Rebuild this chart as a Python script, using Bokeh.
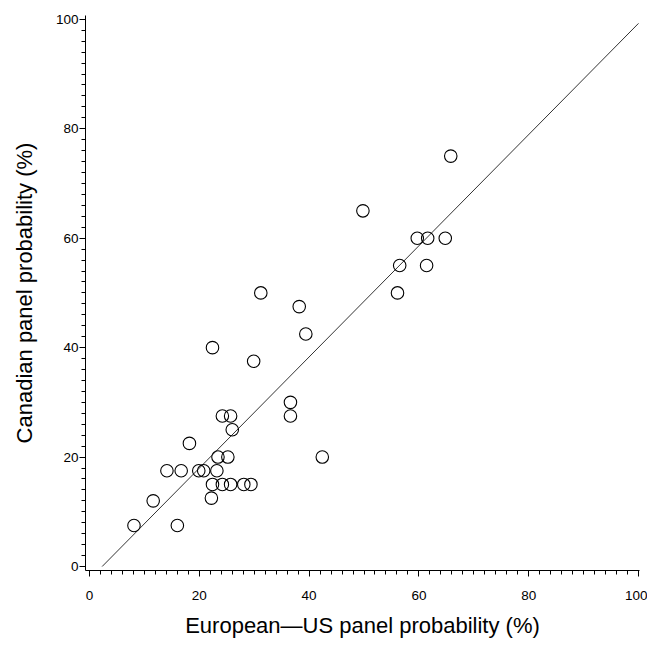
from bokeh.plotting import figure
from bokeh.models import ColumnDataSource, SingleIntervalTicker, Range1d
from bokeh.embed import file_html
from bokeh.resources import INLINE

# European-US panel probability (%)
eu_us = [8.1, 11.6, 14.1, 16.7, 18.2, 16.0, 19.9, 20.8, 23.2, 23.4, 25.2,
         24.2, 25.7, 26.0, 22.4, 24.2, 25.7, 28.1, 29.4, 22.2, 36.6, 36.6,
         42.4, 65.8, 49.8, 59.7, 61.6, 64.8, 56.5, 61.4, 56.1, 31.2, 38.2,
         39.4, 22.4, 29.9]
# Canadian panel probability (%)
canadian = [7.5, 12.0, 17.5, 17.5, 22.5, 7.5, 17.5, 17.5, 17.5, 20.0, 20.0,
            27.5, 27.5, 25.0, 15.0, 15.0, 15.0, 15.0, 15.0, 12.5, 30.0, 27.5,
            20.0, 75.0, 65.0, 60.0, 60.0, 60.0, 55.0, 55.0, 50.0, 50.0, 47.5,
            42.5, 40.0, 37.5]

# fitted line
fit_intercept = -2.34
fit_slope = 1.016
fit_x = [2.3, 100.0]
fit_y = [fit_intercept + fit_slope * v for v in fit_x]

x_label = "European\u2014US panel probability (%)"
y_label = "Canadian panel probability (%)"

FONT = "Liberation Sans"

p = figure(frame_width=554, frame_height=555,
           min_border_left=85, min_border_right=8,
           min_border_top=15, min_border_bottom=60,
           x_range=Range1d(-0.73, 100.18), y_range=Range1d(-0.73, 100.7),
           output_backend="svg", toolbar_location=None,
           background_fill_color="white", border_fill_color="white")
p.outline_line_color = None
p.xgrid.visible = False
p.ygrid.visible = False

src = ColumnDataSource(dict(x=eu_us, y=canadian))
p.line(fit_x, fit_y, line_color="#333333", line_width=1)
p.scatter("x", "y", source=src, marker="circle", size=12.5,
          fill_color=None, line_color="black", line_width=1.1)

for ax in (p.xaxis[0], p.yaxis[0]):
    ax.ticker = SingleIntervalTicker(interval=20, num_minor_ticks=10)
    ax.axis_line_color = "black"
    ax.axis_line_width = 1
    ax.major_tick_line_color = "black"
    ax.minor_tick_line_color = "black"
    ax.major_tick_in = 0
    ax.major_tick_out = 6
    ax.minor_tick_in = 0
    ax.minor_tick_out = 4
    ax.major_label_text_font = FONT
    ax.major_label_text_font_size = "13.5px"
    ax.major_label_text_color = "black"
    ax.axis_label_text_font = FONT
    ax.axis_label_text_font_size = "22px"
    ax.axis_label_text_font_style = "normal"
    ax.axis_label_text_color = "black"

p.xaxis.axis_label = x_label
p.yaxis.axis_label = y_label
p.xaxis.major_label_standoff = 14
p.yaxis.major_label_standoff = 1
p.xaxis.axis_label_standoff = 10
p.yaxis.axis_label_standoff = 16

open("out.html", "w").write(file_html(p, INLINE))
